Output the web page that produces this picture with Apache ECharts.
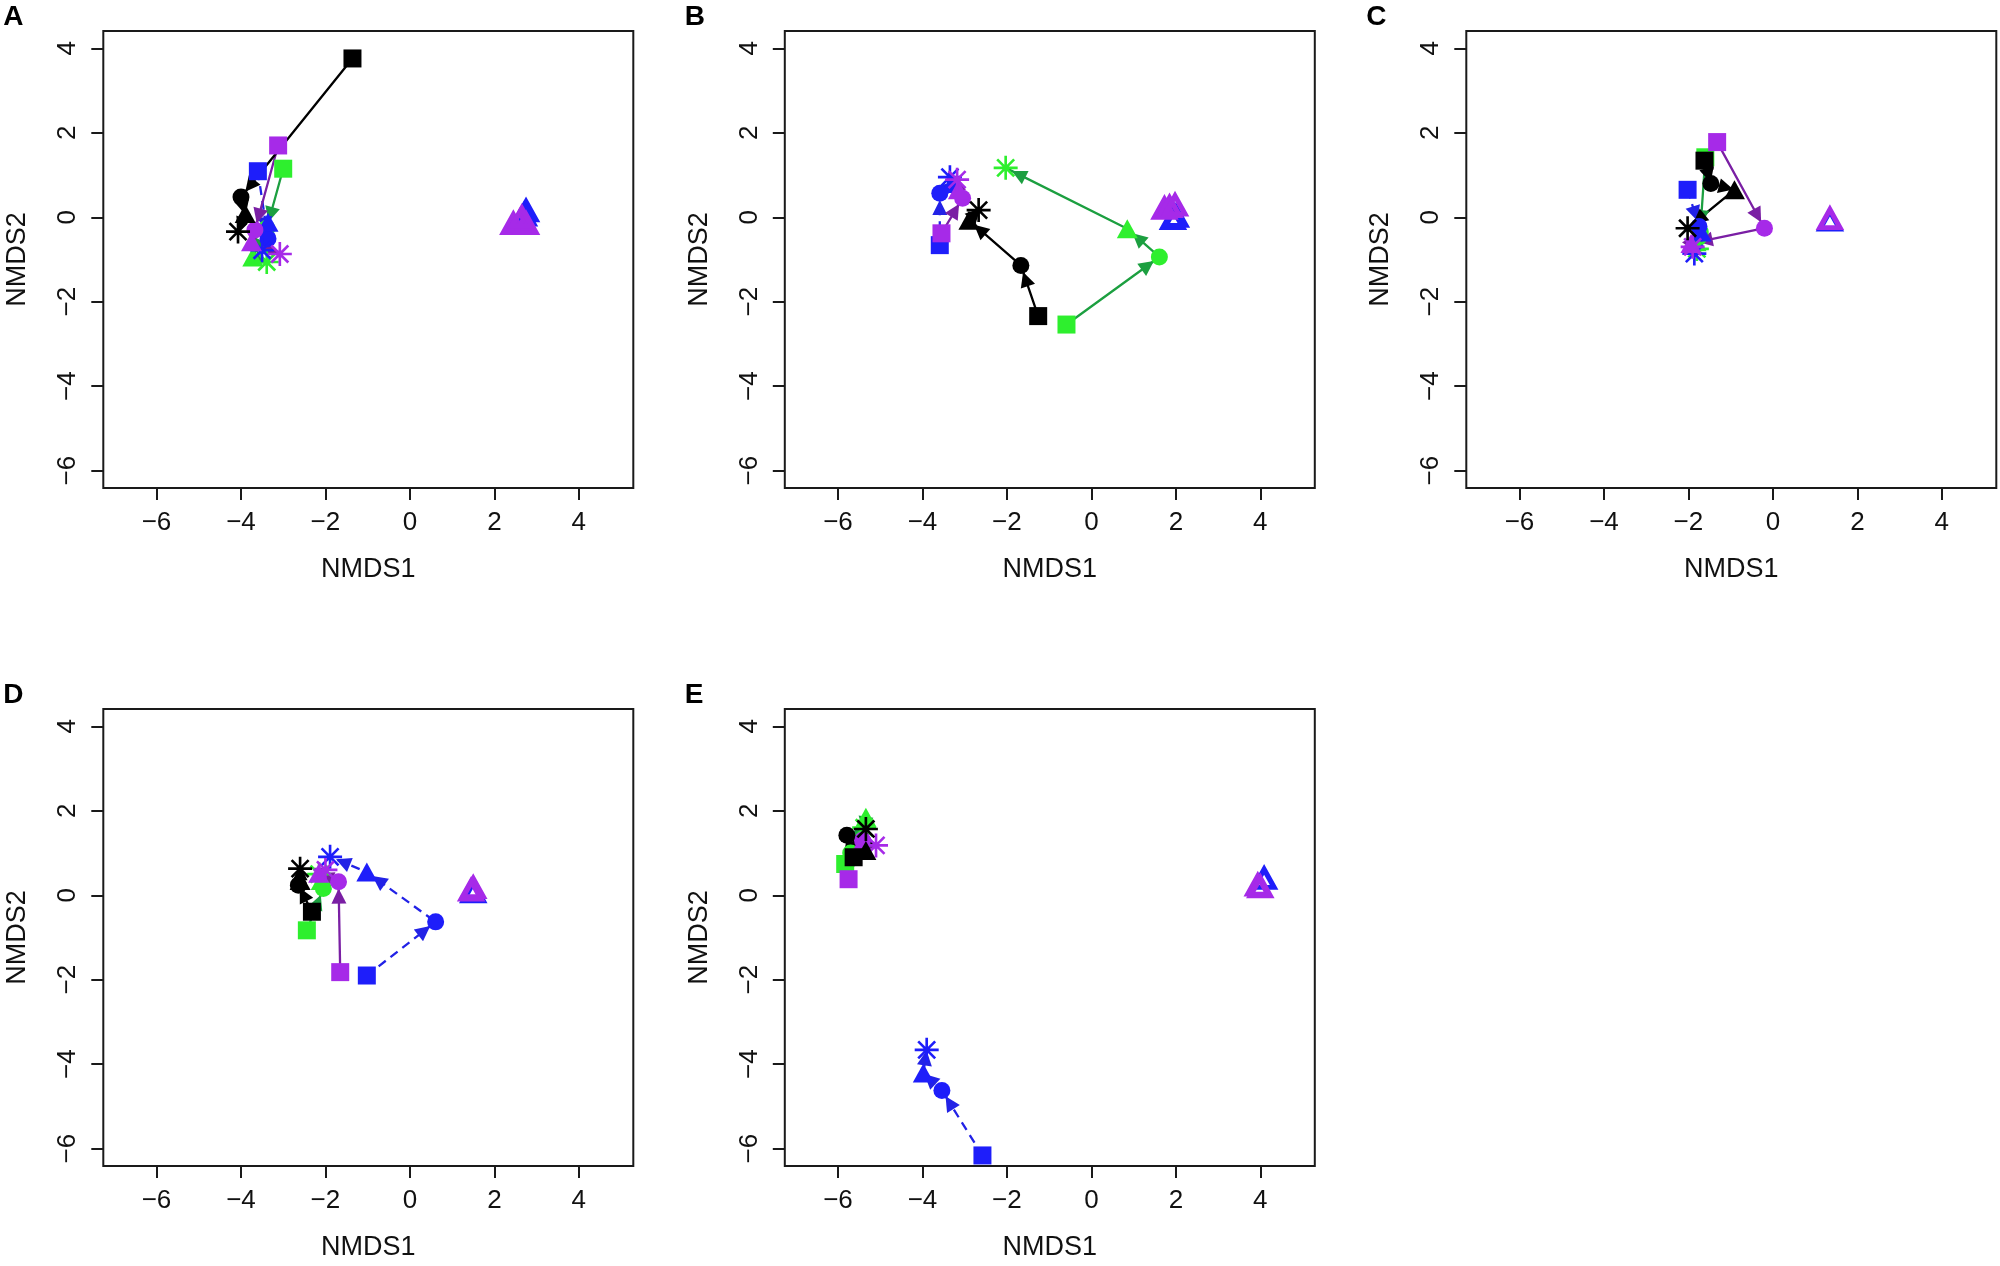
<!DOCTYPE html>
<html><head><meta charset="utf-8">
<script src="https://cdn.jsdelivr.net/npm/echarts@6/dist/echarts.min.js"></script>
<style>html,body{margin:0;padding:0;background:#fff}#c{width:2000px;height:1266px}</style>
</head><body><div id="c"></div>
<script>
// ---- tick labels / categories ----
const panelLabels = ['A','B','C','D','E'];
const xTicks = [-6,-4,-2,0,2,4];
const yTicks = [-6,-4,-2,0,2,4];
const timeShapes = ['square','circle','triangle','asterisk']; // order along each trajectory
const groupOrder = ['green','blue','purple','black'];

// ---- Panel A trajectories [NMDS1, NMDS2] ----
const A_black  = [[-1.36,3.76],[-4.00,0.48],[-3.90,0.09],[-4.07,-0.34]];
const A_blue   = [[-3.60,1.09],[-3.36,-0.51],[-3.36,-0.12],[-3.50,-0.78]];
const A_green  = [[-3.00,1.15],[-3.39,-0.26],[-3.72,-0.94],[-3.39,-1.06]];
const A_purple = [[-3.12,1.70],[-3.67,-0.30],[-3.75,-0.58],[-3.08,-0.87]];
const A_openBlue   = [[2.75,0.15],[2.70,0.05]];
const A_openPurple = [[2.45,-0.15],[2.60,-0.10],[2.75,-0.15],[2.65,0.00]];

// ---- Panel B ----
const B_black  = [[-1.26,-2.34],[-1.67,-1.14],[-2.90,-0.07],[-2.67,0.17]];
const B_blue   = [[-3.59,-0.66],[-3.59,0.57],[-3.30,0.80],[-3.35,0.95]];
const B_green  = [[-0.59,-2.54],[1.61,-0.94],[0.85,-0.27],[-2.03,1.17]];
const B_purple = [[-3.55,-0.38],[-3.05,0.45],[-3.15,0.65],[-3.18,0.89]];
const B_openBlue   = [[1.93,-0.03],[2.00,0.02]];
const B_openPurple = [[1.73,0.21],[1.85,0.25],[1.98,0.29]];

// ---- Panel C ----
const C_black  = [[-1.62,1.34],[-1.47,0.80],[-0.91,0.65],[-2.02,-0.26]];
const C_blue   = [[-2.02,0.65],[-1.75,-0.22],[-1.70,-0.35],[-1.86,-0.86]];
const C_green  = [[-1.60,1.42],[-1.72,-0.35],[-1.82,-0.58],[-1.80,-0.75]];
const C_purple = [[-1.32,1.78],[-0.20,-0.26],[-1.94,-0.62],[-1.90,-0.70]];
const C_openBlue   = [[1.35,-0.07]];
const C_openPurple = [[1.35,-0.03]];

// ---- Panel D ----
const D_black  = [[-2.32,-0.39],[-2.64,0.24],[-2.60,0.35],[-2.60,0.63]];
const D_blue   = [[-1.02,-1.90],[0.61,-0.63],[-1.02,0.55],[-1.89,0.91]];
const D_green  = [[-2.44,-0.83],[-2.05,0.16],[-2.10,0.35],[-2.15,0.50]];
const D_purple = [[-1.65,-1.82],[-1.69,0.32],[-2.16,0.52],[-2.00,0.60]];
const D_openBlue   = [[1.50,0.08]];
const D_openPurple = [[1.45,0.12],[1.50,0.18]];

// ---- Panel E ----
const E_black  = [[-5.63,0.90],[-5.79,1.42],[-5.34,1.06],[-5.34,1.57]];
const E_blue   = [[-2.58,-6.16],[-3.54,-4.62],[-3.98,-4.21],[-3.90,-3.66]];
const E_green  = [[-5.83,0.74],[-5.70,1.00],[-5.34,1.85],[-5.38,1.60]];
const E_purple = [[-5.75,0.38],[-5.42,1.30],[-5.45,1.20],[-5.10,1.18]];
const E_openBlue   = [[4.09,0.40]];
const E_openPurple = [[3.94,0.24],[4.00,0.20]];

const panels = [
  {traj:{black:A_black,blue:A_blue,green:A_green,purple:A_purple}, openBlue:A_openBlue, openPurple:A_openPurple},
  {traj:{black:B_black,blue:B_blue,green:B_green,purple:B_purple}, openBlue:B_openBlue, openPurple:B_openPurple},
  {traj:{black:C_black,blue:C_blue,green:C_green,purple:C_purple}, openBlue:C_openBlue, openPurple:C_openPurple},
  {traj:{black:D_black,blue:D_blue,green:D_green,purple:D_purple}, openBlue:D_openBlue, openPurple:D_openPurple},
  {traj:{black:E_black,blue:E_blue,green:E_green,purple:E_purple}, openBlue:E_openBlue, openPurple:E_openPurple}
];

// ---- styling ----
const markerColor = {black:'#000000', blue:'#1e1efa', green:'#2eef2e', purple:'#a62ae8'};
const lineColor   = {black:'#000000', blue:'#2222e6', green:'#1c9f40', purple:'#7a1fa4'};
const FONT = 'Liberation Sans, Arial, Helvetica, sans-serif';
const XMIN=-7.26, XMAX=5.29, YMIN=-6.41, YMAX=4.41;
const GL=103.3, GT=31, GW=530, GH=457, DX=681.5, DY=678;

function asteriskPath(){
  const w=0.11, parts=[];
  [0,45,90,135].forEach(a=>{
    const r=a*Math.PI/180, c=Math.cos(r), s=Math.sin(r);
    const pts=[[-1,-w],[1,-w],[1,w],[-1,w]].map(([u,v])=>[50+50*(u*c - v*s), 50+50*(u*s + v*c)]);
    parts.push('M'+pts.map(p=>p[0].toFixed(2)+' '+p[1].toFixed(2)).join(' L')+' Z');
  });
  return 'path://'+parts.join(' ');
}
const AST = asteriskPath();
const symbolOf = {square:'rect', circle:'circle', triangle:'triangle', asterisk:AST};
const sizeOf = {square:18, circle:17, triangle:[21,19], asterisk:24};
const minus = v => String(v).replace('-', '\u2212');

const grid=[], xAxis=[], yAxis=[], series=[], title=[];
panels.forEach((p,i)=>{
  const col=i%3, row=Math.floor(i/3);
  const left=GL+col*DX, top=GT+row*DY;
  grid.push({left, top, width:GW, height:GH, show:true, borderColor:'#1a1a1a', borderWidth:2, backgroundColor:'transparent', containLabel:false});
  title.push({text:panelLabels[i], left:left-100, top:top-28, padding:0,
    textStyle:{fontSize:28, fontWeight:'bold', fontFamily:FONT, color:'#000'}});
  const axCommon = {
    type:'value', gridIndex:i, scale:false,
    axisLine:{show:false, onZero:false},
    splitLine:{show:false},
    nameTextStyle:{fontSize:27, fontFamily:FONT, color:'#111'}
  };
  xAxis.push(Object.assign({}, axCommon, {
    position:'bottom',
    min:XMIN, max:XMAX, name:'NMDS1', nameLocation:'middle', nameGap:68,
    axisTick:{show:true, customValues:xTicks, length:12, inside:false, lineStyle:{color:'#1a1a1a', width:2}},
    axisLabel:{show:true, customValues:xTicks, fontSize:26, fontFamily:FONT, color:'#111', margin:22, formatter:minus}
  }));
  yAxis.push(Object.assign({}, axCommon, {
    position:'left',
    min:YMIN, max:YMAX, name:'NMDS2', nameLocation:'middle', nameGap:72, nameRotate:90,
    axisTick:{show:true, customValues:yTicks, length:12, inside:false, lineStyle:{color:'#1a1a1a', width:2}},
    axisLabel:{show:true, customValues:yTicks, fontSize:26, fontFamily:FONT, color:'#111', margin:22, rotate:90, formatter:minus}
  }));

  groupOrder.forEach(g=>{
    const pts = p.traj[g];
    const ls = {color:lineColor[g], width:2.3, type: g==='blue' ? [9,6] : 'solid'};
    series.push({type:'line', xAxisIndex:i, yAxisIndex:i, data:pts, showSymbol:false, symbol:'none',
      lineStyle:ls, silent:true, animation:false, z:2});
    // arrowheads near the end of each step
    const segs=[];
    for(let k=0;k<pts.length-1;k++){
      const [x0,y0]=pts[k], [x1,y1]=pts[k+1];
      const dx=x1-x0, dy=y1-y0, len=Math.hypot(dx,dy);
      if(len<1e-6) continue;
      const ux=dx/len, uy=dy/len;
      const td=Math.min(0.34, 0.35*len);
      const tx=x1-ux*td, ty=y1-uy*td;
      segs.push({coords:[[tx-ux*0.02, ty-uy*0.02],[tx,ty]]});
    }
    series.push({type:'lines', coordinateSystem:'cartesian2d', xAxisIndex:i, yAxisIndex:i, data:segs,
      symbol:['none','triangle'], symbolSize:[12,15], lineStyle:{color:lineColor[g], width:1, opacity:1},
      silent:true, animation:false, z:3});
    series.push({type:'scatter', xAxisIndex:i, yAxisIndex:i,
      data: pts.map((pt,k)=>({value:pt, symbol:symbolOf[timeShapes[k]], symbolSize:sizeOf[timeShapes[k]]})),
      itemStyle:{color:markerColor[g], opacity:1}, silent:true, animation:false, z:4});
  });
  [['blue',p.openBlue],['purple',p.openPurple]].forEach(([g,arr])=>{
    series.push({type:'scatter', xAxisIndex:i, yAxisIndex:i, data:arr, symbol:'triangle', symbolSize:[20,18],
      itemStyle:{color:'rgba(255,255,255,0)', borderColor:markerColor[g], borderWidth:5, opacity:1},
      silent:true, animation:false, z:4});
  });
});

const chart = echarts.init(document.getElementById('c'), null, {renderer:'canvas'});
chart.setOption({backgroundColor:'#ffffff', animation:false, title, grid, xAxis, yAxis, series});
</script></body></html>
